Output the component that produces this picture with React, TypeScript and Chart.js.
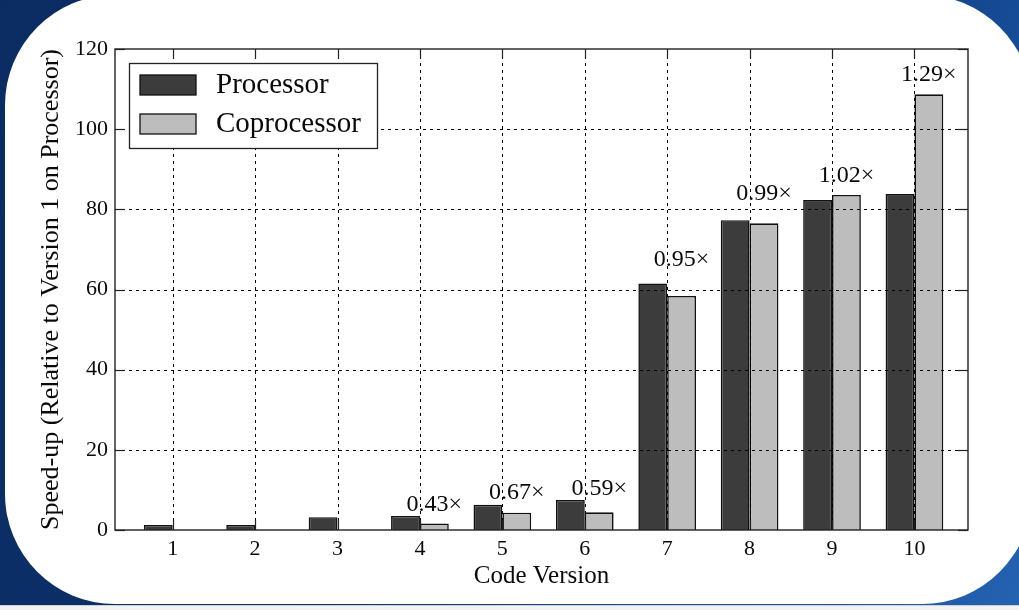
import React, { useEffect, useRef } from "react";
import { Chart, registerables } from "chart.js";

Chart.register(...registerables);

// ---- data ----
const versions = [1, 2, 3, 4, 5, 6, 7, 8, 9, 10];
const processorSpeedup = [1.25, 1.25, 3.2, 3.5, 6.3, 7.5, 61.5, 77.3, 82.3, 83.8];
const coprocessorSpeedup: (number | null)[] = [null, null, null, 1.6, 4.3, 4.4, 58.4, 76.5, 83.6, 108.7];
const ratioVersions = [4, 5, 6, 7, 8, 9, 10];
const ratioLabels = ["0.43×", "0.67×", "0.59×", "0.95×", "0.99×", "1.02×", "1.29×"];
const ratioLabelY = [6.2, 9.4, 10.4, 67.4, 84.0, 88.3, 113.5];
const yTicks = [0, 20, 40, 60, 80, 100, 120];
const seriesNames = ["Processor", "Coprocessor"];
const xTitle = "Code Version";
const yTitle = "Speed-up (Relative to Version 1 on Processor)";

const FONT = "'Liberation Serif', 'Times New Roman', serif";
const TEXT = "#0a0a0a";
const DARK = "#3c3c3c";
const LIGHT = "#bdbdbd";

const overlayPlugin = {
  id: "overlay",
  afterDatasetsDraw(chart: any) {
    const { ctx, chartArea: a, scales } = chart;
    const x = scales.x;
    const y = scales.y;
    const line = (x1: number, y1: number, x2: number, y2: number) => {
      ctx.beginPath();
      ctx.moveTo(x1, y1);
      ctx.lineTo(x2, y2);
      ctx.stroke();
    };
    ctx.save();
    // dotted grid on top of bars
    ctx.strokeStyle = "#000";
    ctx.lineWidth = 1;
    ctx.setLineDash([3, 4]);
    for (const v of versions) {
      const px = Math.round(x.getPixelForValue(v)) + 0.5;
      line(px, a.top, px, a.bottom);
    }
    for (const v of yTicks) {
      if (v <= y.min || v >= y.max) continue;
      const py = Math.round(y.getPixelForValue(v)) + 0.5;
      line(a.left, py, a.right, py);
    }
    ctx.setLineDash([]);
    // frame
    ctx.lineWidth = 1.4;
    ctx.strokeStyle = "#222";
    ctx.strokeRect(a.left, a.top, a.right - a.left, a.bottom - a.top);
    // inward ticks
    const tl = 10;
    ctx.lineWidth = 1.2;
    for (const v of versions) {
      const px = Math.round(x.getPixelForValue(v)) + 0.5;
      line(px, a.bottom, px, a.bottom - tl);
      line(px, a.top, px, a.top + tl);
    }
    for (const v of yTicks) {
      const py = Math.round(y.getPixelForValue(v)) + 0.5;
      line(a.left, py, a.left + tl, py);
      line(a.right, py, a.right - tl, py);
    }
    // ratio labels
    const meta = chart.getDatasetMeta(1);
    ctx.fillStyle = TEXT;
    ctx.font = `24px ${FONT}`;
    ctx.textAlign = "center";
    ctx.textBaseline = "middle";
    ratioVersions.forEach((v, i) => {
      const idx = versions.indexOf(v);
      const bar = meta.data[idx];
      const px = bar ? bar.x : x.getPixelForValue(v);
      ctx.fillText(ratioLabels[i], px, y.getPixelForValue(ratioLabelY[i]));
    });
    // legend
    const lx = a.left + 14;
    const ly = a.top + 14;
    const lw = 248;
    const lh = 85;
    ctx.fillStyle = "#fff";
    ctx.fillRect(lx, ly, lw, lh);
    ctx.lineWidth = 1.3;
    ctx.strokeStyle = "#222";
    ctx.strokeRect(lx + 0.5, ly + 0.5, lw, lh);
    chart.data.datasets.forEach((ds: any, i: number) => {
      const sy = ly + 12 + i * 39;
      ctx.fillStyle = ds.backgroundColor;
      ctx.fillRect(lx + 11, sy, 56, 20);
      ctx.lineWidth = 1.3;
      ctx.strokeStyle = "#111";
      ctx.strokeRect(lx + 11, sy, 56, 20);
      ctx.fillStyle = TEXT;
      ctx.font = `29px ${FONT}`;
      ctx.textAlign = "left";
      ctx.textBaseline = "middle";
      ctx.fillText(ds.label, lx + 87, sy + 10);
    });
    ctx.restore();
  },
};

export default function App() {
  const canvasRef = useRef<HTMLCanvasElement | null>(null);

  useEffect(() => {
    if (!canvasRef.current) return;
    const chart = new Chart(canvasRef.current, {
      type: "bar",
      data: {
        datasets: [
          {
            label: seriesNames[0],
            data: versions.map((v, i) => ({ x: v, y: processorSpeedup[i] })),
            backgroundColor: DARK,
            borderColor: "#111",
            borderWidth: 1.6,
            categoryPercentage: 0.7,
            barPercentage: 1.0,
          },
          {
            label: seriesNames[1],
            data: versions.map((v, i) => ({ x: v, y: coprocessorSpeedup[i] })),
            backgroundColor: LIGHT,
            borderColor: "#111",
            borderWidth: 1.6,
            categoryPercentage: 0.7,
            barPercentage: 1.0,
          },
        ],
      },
      options: {
        animation: false,
        responsive: false,
        devicePixelRatio: 1,
        layout: { padding: { left: 0, top: 49, right: 51, bottom: 0 } },
        plugins: {
          legend: { display: false },
          tooltip: { enabled: false },
        },
        scales: {
          x: {
            type: "linear",
            min: 0.3,
            max: 10.65,
            offset: false,
            afterBuildTicks: (s: any) => {
              s.ticks = versions.map((v) => ({ value: v }));
            },
            afterFit: (s: any) => {
              s.height = 80;
            },
            grid: { display: false, drawTicks: false },
            border: { display: false },
            ticks: {
              color: TEXT,
              font: { family: FONT, size: 22 },
              padding: 6,
              maxRotation: 0,
              autoSkip: false,
            },
            title: {
              display: true,
              text: xTitle,
              color: TEXT,
              font: { family: FONT, size: 25 },
              padding: { top: 0, bottom: 19 },
            },
          },
          y: {
            type: "linear",
            min: 0,
            max: 120,
            afterBuildTicks: (s: any) => {
              s.ticks = yTicks.map((v) => ({ value: v }));
            },
            afterFit: (s: any) => {
              s.width = 115;
            },
            grid: { display: false, drawTicks: false },
            border: { display: false },
            ticks: {
              color: TEXT,
              font: { family: FONT, size: 22 },
              padding: 7,
            },
            title: {
              display: true,
              text: yTitle,
              color: TEXT,
              font: { family: FONT, size: 26 },
              padding: { top: 36, bottom: 0 },
            },
          },
        },
      } as any,
      plugins: [overlayPlugin],
    });
    return () => chart.destroy();
  }, []);

  return (
    <div
      style={{
        position: "fixed",
        left: 0,
        top: 0,
        width: 1019,
        height: 610,
        overflow: "hidden",
        background:
          "linear-gradient(120deg, #0a2c62 0%, #0b3068 45%, #164b96 75%, #2462b2 100%)",
      }}
    >
      <div
        style={{
          position: "absolute",
          left: 5,
          top: -5,
          width: 1027,
          height: 609,
          borderRadius: 110,
          background: "#fff",
        }}
      />
      <div
        style={{
          position: "absolute",
          left: 0,
          top: 605,
          width: 1019,
          height: 5,
          background: "#f3f3f3",
          borderTop: "1px solid #cfcfcf",
        }}
      />
      <canvas
        ref={canvasRef}
        width={1019}
        height={610}
        style={{ position: "absolute", left: 0, top: 0, display: "block" }}
      />
    </div>
  );
}
